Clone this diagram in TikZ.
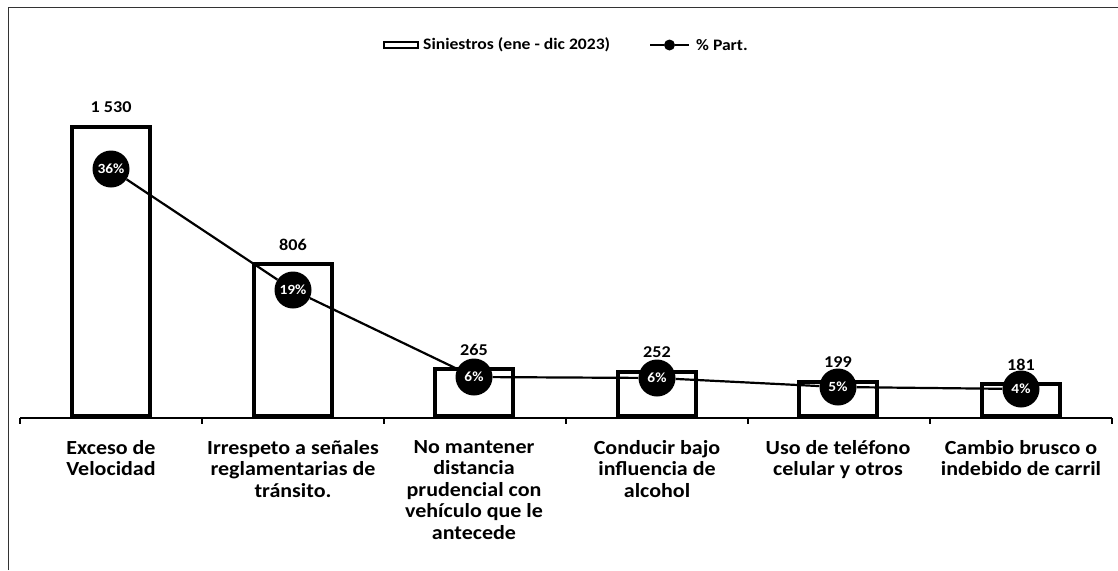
\documentclass[tikz,border=0pt]{standalone}
\usepackage{fontspec}
\setmainfont{Carlito}[FakeStretch=1.1]
\begin{document}
\begin{tikzpicture}[x=1pt,y=-1pt,
  bar/.style={draw=black,line width=3.2pt,fill=white,minimum width=78pt,inner sep=0pt,anchor=south},
  val/.style={font=\bfseries\fontsize{16.5}{18}\selectfont,inner sep=0pt},
  pct/.style={circle,fill=black,minimum size=37pt,inner sep=0pt,text=white,font=\bfseries\fontsize{14}{16}\selectfont},
  cat/.style={font=\bfseries\fontsize{20}{21.5}\selectfont,align=center,anchor=north,inner sep=0pt},
  legtext/.style={font=\bfseries\fontsize{16}{18}\selectfont,anchor=west,inner sep=0pt},
  frameline/.style={draw=black!80,line width=0.8pt},
  axisline/.style={draw=black,line width=1.2pt},
  pline/.style={draw=black,line width=2.2pt}]
\useasboundingbox (0,0) rectangle (1118,570);
% frame
\coordinate (ftl) at (8,7);
\coordinate (fbl) at (8,570);
\coordinate (ftr) at (1118,7);
\draw[frameline] (fbl) -- (ftl) -- (ftr);
% axis
\coordinate (ax0) at (20,418);
\coordinate (ax1) at (1112,418);
\draw[axisline] (ax0) -- (ax1);
\foreach \t in {20,202,384,566,748,930,1112}{
  \draw[axisline] (\t,418) -- (\t,424);
}
% bars
\node[bar,minimum height=289pt] (b1) at (111,417.5) {};
\node[bar,minimum height=152pt] (b2) at (293,417.5) {};
\node[bar,minimum height=47pt] (b3) at (474,417.5) {};
\node[bar,minimum height=44pt] (b4) at (657,417.5) {};
\node[bar,minimum height=34pt] (b5) at (838,417.5) {};
\node[bar,minimum height=32pt] (b6) at (1021,417.5) {};
% value labels
\node[val] (v1) at (111,107) {1 530};
\node[val] (v2) at (293,245) {806};
\node[val] (v3) at (474,350) {265};
\node[val] (v4) at (657,352) {252};
\node[val] (v5) at (838,362) {199};
\node[val] (v6) at (1021,365) {181};
% percentage markers
\node[pct] (p1) at (111,169) {36\%};
\node[pct] (p2) at (293,290) {19\%};
\node[pct] (p3) at (474,377) {6\%};
\node[pct] (p4) at (657,378) {6\%};
\node[pct] (p5) at (838,387) {5\%};
\node[pct] (p6) at (1021,389) {4\%};
\draw[pline] (p1) -- (p2) -- (p3) -- (p4) -- (p5) -- (p6);
% category labels
\node[cat] (c1) at (111,440) {Exceso de\\Velocidad};
\node[cat] (c2) at (293,440) {Irrespeto a señales\\reglamentarias de\\tránsito.};
\node[cat] (c3) at (474,440) {No mantener\\distancia\\prudencial con\\vehículo que le\\antecede};
\node[cat] (c4) at (657,440) {Conducir bajo\\influencia de\\alcohol};
\node[cat] (c5) at (838,440) {Uso de teléfono\\celular y otros};
\node[cat] (c6) at (1021,440) {Cambio brusco o\\indebido de carril};
% legend
\node[draw=black,line width=2.5pt,fill=white,minimum width=34pt,minimum height=6pt,inner sep=0pt] (lb) at (401,45) {};
\node[legtext] (lt1) at (423,45) {Siniestros (ene - dic 2023)};
\coordinate (ll0) at (650,45);
\coordinate (ll1) at (689,45);
\node[circle,fill=black,minimum size=11pt,inner sep=0pt] (lm) at (669.5,45) {};
\draw[pline] (ll0) -- (lm) -- (ll1);
\node[legtext] (lt2) at (696,45) {\% Part.};
\end{tikzpicture}
\end{document}
